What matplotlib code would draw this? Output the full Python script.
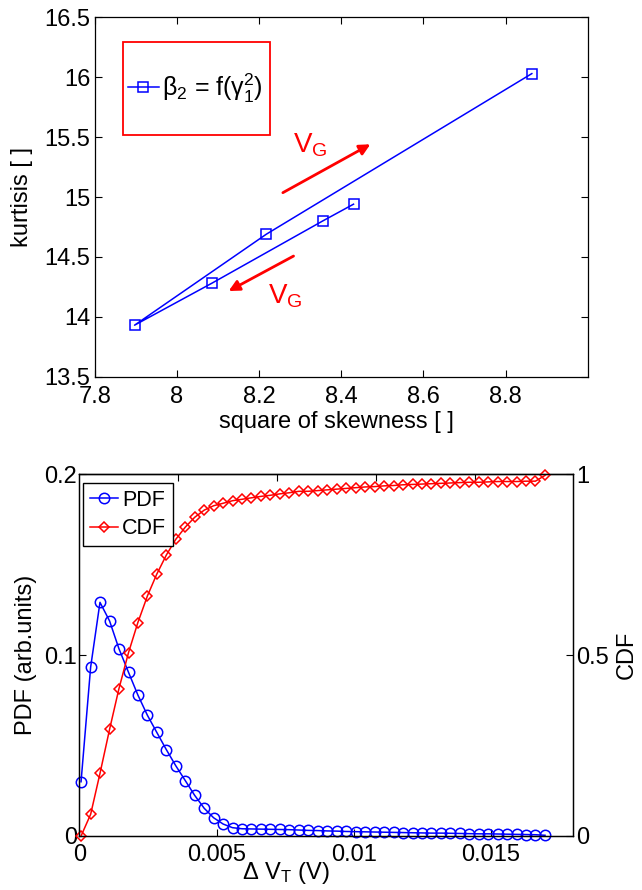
import matplotlib

matplotlib.use("Agg")

import matplotlib.pyplot as plt
from matplotlib.patches import Rectangle

plt.rcParams["font.family"] = ["Liberation Sans", "DejaVu Sans"]
plt.rcParams["mathtext.fontset"] = "custom"
plt.rcParams["mathtext.rm"] = "Liberation Sans"
plt.rcParams["mathtext.it"] = "Liberation Sans:italic"

# top panel: kurtosis vs square of skewness (loop order)
skew_sq = [8.43, 8.355, 8.085, 7.897, 8.218, 8.864]
kurt = [14.94, 14.80, 14.28, 13.93, 14.69, 16.03]

# arrows (start, end) and labels
arrow_up = ((8.258, 15.036), (8.471, 15.44))
arrow_down = ((8.284, 14.507), (8.126, 14.215))
vg_up_pos = (8.283, 15.55)
vg_down_pos = (8.221, 14.29)

# bottom panel: PDF / CDF of delta VT
dvt = [0.00006, 0.00041, 0.00075, 0.00110, 0.00144, 0.00179, 0.00213, 0.00248,
       0.00282, 0.00317, 0.00351, 0.00386, 0.00420, 0.00455, 0.00489, 0.00524,
       0.00558, 0.00593, 0.00627, 0.00662, 0.00696, 0.00731, 0.00765, 0.00800,
       0.00834, 0.00869, 0.00903, 0.00938, 0.00972, 0.01007, 0.01041, 0.01076,
       0.01110, 0.01145, 0.01179, 0.01214, 0.01248, 0.01283, 0.01317, 0.01352,
       0.01386, 0.01421, 0.01455, 0.01490, 0.01524, 0.01559, 0.01593, 0.01628,
       0.01662, 0.01697]
pdf = [0.030, 0.0934, 0.1292, 0.1189, 0.1036, 0.0905, 0.078, 0.0667, 0.0573,
       0.0477, 0.0389, 0.0306, 0.0225, 0.0153, 0.0101, 0.0066, 0.0046, 0.0040,
       0.0039, 0.0038, 0.0037, 0.0036, 0.0035, 0.0033, 0.0031, 0.0030, 0.0028,
       0.0027, 0.0025, 0.0024, 0.0023, 0.0022, 0.0021, 0.0020, 0.0019, 0.0018,
       0.0017, 0.0016, 0.0016, 0.0015, 0.0014, 0.0013, 0.0012, 0.0012, 0.0011,
       0.0010, 0.0009, 0.0008, 0.0007, 0.0004]
cdf = [0.0, 0.060, 0.173, 0.295, 0.407, 0.507, 0.590, 0.664, 0.724, 0.777,
       0.820, 0.854, 0.881, 0.901, 0.913, 0.920, 0.927, 0.931, 0.935, 0.939,
       0.942, 0.946, 0.949, 0.953, 0.953, 0.955, 0.957, 0.959, 0.961, 0.963,
       0.965, 0.966, 0.968, 0.969, 0.971, 0.972, 0.973, 0.974, 0.975, 0.976,
       0.977, 0.978, 0.978, 0.979, 0.980, 0.980, 0.980, 0.981, 0.981, 0.997]

top_xticks = [7.8, 8.0, 8.2, 8.4, 8.6, 8.8]
top_xlabels = ["7.8", "8", "8.2", "8.4", "8.6", "8.8"]
top_yticks = [13.5, 14.0, 14.5, 15.0, 15.5, 16.0, 16.5]
top_ylabels = ["13.5", "14", "14.5", "15", "15.5", "16", "16.5"]
bot_xticks = [0, 0.005, 0.01, 0.015]
bot_xlabels = ["0", "0.005", "0.01", "0.015"]
bot_xticks_top = [0.0036, 0.0072, 0.0108, 0.0144]
pdf_ticks = [0, 0.1, 0.2]
pdf_labels = ["0", "0.1", "0.2"]
cdf_ticks = [0, 0.5, 1]
cdf_labels = ["0", "0.5", "1"]

FS = 17
W, H = 642, 890
fig = plt.figure(figsize=(W / 100, H / 100), dpi=100)


def px_rect(left, top, right, bottom):
    return [left / W, 1 - bottom / H, (right - left) / W, (bottom - top) / H]


# ---------- top panel ----------
ax = fig.add_axes(px_rect(94.7, 17.3, 587.7, 376.7))
ax.plot(skew_sq, kurt, color="blue", lw=1.1, marker="s", ms=6.5,
        mfc="none", mec="blue", mew=1.1, label=r"β$_\mathregular{2}$ = f(γ$_\mathregular{1}^\mathregular{2}$)")
ax.set_xlim(7.8, 9.0)
ax.set_ylim(13.5, 16.5)
ax.set_xticks(top_xticks, top_xlabels)
ax.set_yticks(top_yticks, top_ylabels)
ax.tick_params(direction="in", length=5, width=0.8, top=True, right=True,
               labelsize=FS)
ax.tick_params(axis="x", pad=7)
ax.tick_params(axis="y", pad=3)
for sp in ax.spines.values():
    sp.set_linewidth(0.9)
ax.set_xlabel("square of skewness [ ]", fontsize=FS)
ax.set_ylabel("kurtisis [ ]", fontsize=FS)
ax.xaxis.set_label_coords(0.49, -0.095)
ax.yaxis.set_label_coords(-0.125, 0.5)

for (start, end) in (arrow_up, arrow_down):
    ax.annotate("", xy=end, xytext=start,
                arrowprops=dict(arrowstyle="-|>", color="red", lw=2,
                                mutation_scale=16, shrinkA=0, shrinkB=0))
for pos in (vg_up_pos, vg_down_pos):
    ax.text(pos[0], pos[1], r"V$_\mathregular{G}$", color="red", fontsize=20,
            ha="left", va="top")

ax.add_patch(Rectangle((0.057, 0.6735), 0.2995, 0.2575, transform=ax.transAxes,
                       fill=False, edgecolor="red", lw=1.3, zorder=4))
ax.legend(loc="center left", bbox_to_anchor=(0.057, 0.802), frameon=False,
          fontsize=FS + 1, handlelength=1.25, handletextpad=0.1, borderpad=0.2,
          borderaxespad=0)

# ---------- bottom panel ----------
ax1 = fig.add_axes(px_rect(79.4, 474.3, 573.3, 836.0))
ax2 = ax1.twinx()
l1, = ax1.plot(dvt, pdf, color="blue", lw=1.1, marker="o", ms=7.5,
               mfc="none", mec="blue", mew=1.1, label="PDF", clip_on=False)
l2, = ax2.plot(dvt, cdf, color="red", lw=1.1, marker="D", ms=5,
               mfc="none", mec="red", mew=1.1, label="CDF", clip_on=False)
ax1.set_xlim(0, 0.018)
ax1.set_ylim(0, 0.2)
ax2.set_ylim(0, 1)
ax1.set_xticks(bot_xticks, bot_xlabels)
ax1.set_yticks(pdf_ticks, pdf_labels)
ax2.set_yticks(cdf_ticks, cdf_labels)
ax1.tick_params(direction="in", length=5, width=0.8, top=False, right=False,
                labelsize=17)
ax1.tick_params(axis="x", pad=6)
ax1.tick_params(axis="y", pad=1.5)
ax2.tick_params(direction="in", length=5, width=0.8, labelsize=17, pad=2)
secx = ax1.secondary_xaxis("top")
secx.set_xticks(bot_xticks_top)
secx.tick_params(direction="in", length=5, width=0.8, labeltop=False)
for a in (ax1, ax2, secx):
    for sp in a.spines.values():
        sp.set_linewidth(0.9)

ax1.set_xlabel(r"Δ V$_\mathregular{T}$ (V)", fontsize=FS)
ax1.xaxis.set_label_coords(0.418, -0.065)
ax1.set_ylabel("PDF (arb.units)", fontsize=FS)
ax1.yaxis.set_label_coords(-0.085, 0.5)
ax2.set_ylabel("CDF", fontsize=FS)
ax2.yaxis.set_label_coords(1.085, 0.5)
ax2.yaxis.label.set_rotation(90)
ax2.yaxis.label.set_va("top")

leg = ax2.legend([l1, l2], ["PDF", "CDF"], loc="upper left",
                 bbox_to_anchor=(0.008, 0.975), borderaxespad=0, fontsize=15.5,
                 handlelength=1.3, handletextpad=0.2, labelspacing=0.35,
                 borderpad=0.3, fancybox=False, framealpha=1)
leg.get_frame().set_edgecolor("black")
leg.get_frame().set_linewidth(1.0)

fig.savefig("out.png", dpi=100)
